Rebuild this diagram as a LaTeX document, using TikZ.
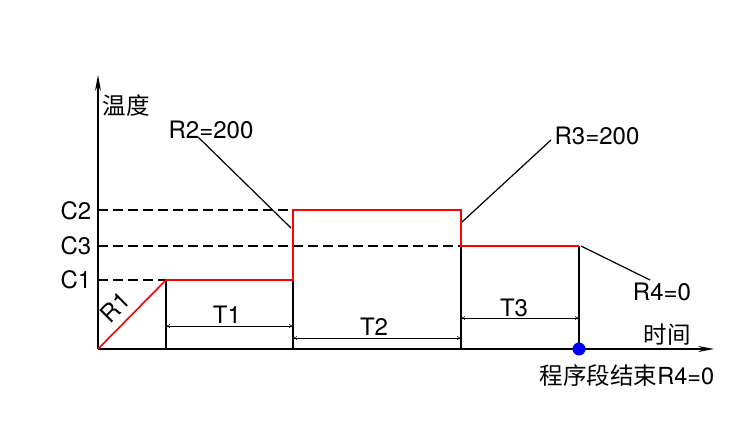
\documentclass[tikz,border=0pt]{standalone}
\usepackage{fontspec}
\setmainfont{TeX Gyre Heros}
\newfontfamily\cjk{Noto Sans CJK SC}
\usetikzlibrary{arrows.meta}
\tikzset{
    prog/.style={red, line width=1.6pt},
    guide/.style={dash pattern=on 10pt off 5pt, line width=1.4pt},
    mark line/.style={line width=1.3pt},
    dim/.style={{To[length=4pt,width=4pt]}-{To[length=4pt,width=4pt]}, line width=0.5pt},
    lbl/.style={font=\fontsize{24}{27}\selectfont, inner sep=0pt},
    zh/.style={font=\cjk\fontsize{23.5}{27}\selectfont, inner sep=0pt},
}

\begin{document}
\begin{tikzpicture}[x=1pt,y=-1pt]
    \useasboundingbox (0,0) rectangle (754,427);
    % axes
    \coordinate (O) at (98,349);
    \coordinate (Ytop) at (98,75);
    \coordinate (Xend) at (714,349);
    % levels on the axis
    \coordinate (c1) at (98,280);
    \coordinate (c2) at (98,210);
    \coordinate (c3) at (98,246);
    % corners of the program
    \coordinate (p1) at (166,280);
    \coordinate (p2) at (293,280);
    \coordinate (p3) at (293,210);
    \coordinate (p4) at (461,210);
    \coordinate (p5) at (461,246);
    \coordinate (p6) at (579,246);
    % feet on the time axis
    \coordinate (f1) at (166,349);
    \coordinate (f2) at (293,349);
    \coordinate (f3) at (461,349);
    \coordinate (f4) at (579,349);

    \draw[line width=1.4pt, -{Stealth[length=16pt,width=6pt]}] (O) -- (Ytop);
    \draw[line width=1.4pt, -{Stealth[length=16pt,width=6pt]}] (O) -- (Xend);

    \draw[guide] (c1) -- (p1);
    \draw[guide] (c2) -- (p3);
    \draw[guide] (c3) -- (p5);

    \draw[mark line] (f1) -- (p1);
    \draw[mark line] (f2) -- (p2);
    \draw[mark line] (f3) -- (p5);
    \draw[mark line] (f4) -- (p6);

    \draw[prog] (O) -- (p1) -- (p2) -- (p3) -- (p4) -- (p5) -- (p6);

    % durations
    \draw[dim] (166,326) coordinate (t1a) -- (293,326) coordinate (t1b);
    \draw[dim] (293,338) coordinate (t2a) -- (461,338) coordinate (t2b);
    \draw[dim] (461,318) coordinate (t3a) -- (579,318) coordinate (t3b);
    \node[lbl] (T1) at (227,315) {T1};
    \node[lbl] (T2) at (374,327) {T2};
    \node[lbl] (T3) at (514,308) {T3};

    \node[lbl] (C1) at (76,280) {C1};
    \node[lbl] (C2) at (76,211) {C2};
    \node[lbl] (C3) at (76,246) {C3};
    \node[lbl, rotate=45] (R1) at (115,307) {R1};

    % rates
    \node[lbl] (R2) at (211,130) {R2=200};
    \node[lbl] (R3) at (597,136) {R3=200};
    \node[lbl] (R4) at (662,292) {R4=0};
    \coordinate (r2foot) at (198,137);
    \coordinate (r2tip) at (291,228);
    \coordinate (r3foot) at (551,140);
    \coordinate (r3tip) at (462,222);
    \coordinate (r4foot) at (650,280);
    \coordinate (r4tip) at (581,246);
    \draw[line width=1.2pt] (r2foot) -- (r2tip);
    \draw[line width=1.2pt] (r3foot) -- (r3tip);
    \draw[line width=1.2pt] (r4foot) -- (r4tip);

    \fill[blue] (f4) circle (6.5pt);

    \node[zh] (temp) at (126,106) {温度};
    \node[zh] (time) at (667,335) {时间};
    \node[zh] (end) at (627,376) {程序段结束{\fontspec{TeX Gyre Heros}R4=0}};
\end{tikzpicture}
\end{document}
